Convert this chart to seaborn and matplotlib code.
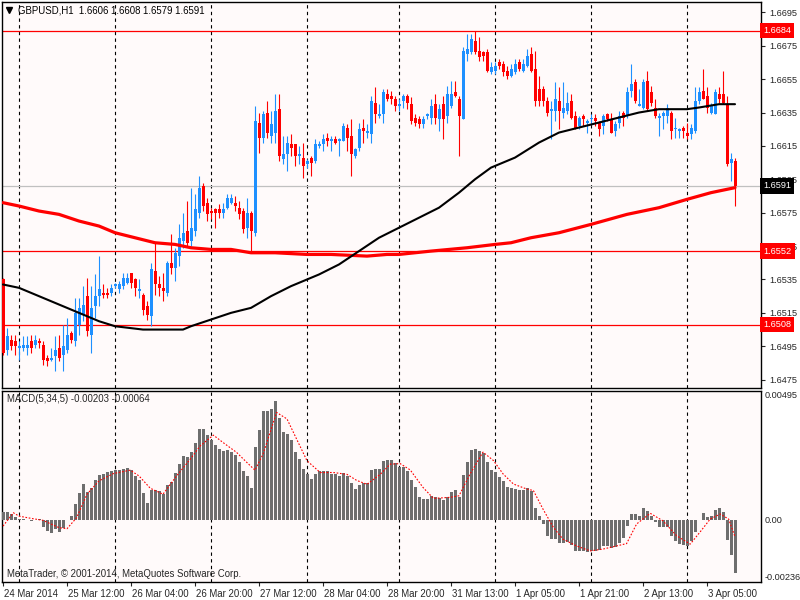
import numpy as np
import matplotlib
matplotlib.use("Agg")
import matplotlib.pyplot as plt
import seaborn as sns
from matplotlib.transforms import ScaledTranslation

# GBPUSD H1 candles, 24 Mar 20:00 .. 3 Apr 12:00 (one entry per bar)
opens = [1.6535,1.6493,1.6499,1.6498,1.6494,1.6494,1.6494,1.6498,1.6496,1.6498,
         1.6496,1.6488,1.6487,1.6489,1.6494,1.6490,1.6493,1.6503,1.6498,1.6508,
         1.6514,1.6525,1.6502,1.6519,1.6525,1.6527,1.6527,1.6527,1.6531,1.6529,
         1.6531,1.6533,1.6539,1.6535,1.6528,1.6526,1.6519,1.6513,1.6540,1.6532,
         1.6530,1.6527,1.6545,1.6542,1.6549,1.6558,1.6564,1.6558,1.6564,1.6575,
         1.6591,1.6581,1.6576,1.6577,1.6577,1.6575,1.6578,1.6581,1.6581,1.6578,
         1.6576,1.6566,1.6575,1.6563,1.6629,1.6620,1.6635,1.6621,1.6623,1.6637,
         1.6607,1.6610,1.6616,1.6616,1.6609,1.6608,1.6604,1.6608,1.6606,1.6615,
         1.6616,1.6620,1.6618,1.6619,1.6618,1.6618,1.6626,1.6621,1.6609,1.6614,
         1.6626,1.6623,1.6622,1.6641,1.6633,1.6634,1.6646,1.6645,1.6643,1.6639,
         1.6642,1.6645,1.6640,1.6632,1.6631,1.6628,1.6633,1.6632,1.6640,1.6631,
         1.6640,1.6633,1.6639,1.6647,1.6643,1.6631,1.6670,1.6671,1.6678,1.6672,
         1.6671,1.6671,1.6659,1.6660,1.6665,1.6664,1.6660,1.6657,1.6659,1.6665,
         1.6660,1.6663,1.6670,1.6661,1.6649,1.6649,1.6642,1.6636,1.6636,1.6642,
         1.6635,1.6636,1.6642,1.6633,1.6627,1.6633,1.6629,1.6631,1.6632,1.6629,
         1.6627,1.6634,1.6631,1.6624,1.6629,1.6635,1.6633,1.6648,1.6653,1.6639,
         1.6638,1.6654,1.6647,1.6638,1.6632,1.6633,1.6633,1.6635,1.6625,1.6624,
         1.6626,1.6623,1.6622,1.6624,1.6642,1.6648,1.6645,1.6635,1.6634,1.6646,
         1.6646,1.6640,1.6605,1.6606]
highs = [1.6536,1.6506,1.6502,1.6502,1.6498,1.6501,1.6501,1.6502,1.6502,1.6500,
         1.6498,1.6490,1.6494,1.6501,1.6502,1.6508,1.6512,1.6504,1.6524,1.6524,
         1.6531,1.6536,1.6531,1.6538,1.6549,1.6532,1.6530,1.6532,1.6533,1.6534,
         1.6539,1.6539,1.6539,1.6536,1.6535,1.6527,1.6522,1.6545,1.6557,1.6537,
         1.6539,1.6546,1.6562,1.6554,1.6568,1.6575,1.6582,1.6590,1.6586,1.6597,
         1.6593,1.6584,1.6578,1.6578,1.6580,1.6581,1.6586,1.6586,1.6585,1.6582,
         1.6578,1.6584,1.6576,1.6639,1.6635,1.6636,1.6642,1.6636,1.6646,1.6646,
         1.6621,1.6621,1.6622,1.6616,1.6615,1.6617,1.6607,1.6609,1.6619,1.6618,
         1.6622,1.6623,1.6621,1.6621,1.6620,1.6629,1.6628,1.6631,1.6614,1.6629,
         1.6631,1.6628,1.6645,1.6650,1.6640,1.6649,1.6649,1.6648,1.6645,1.6643,
         1.6646,1.6646,1.6644,1.6634,1.6633,1.6633,1.6635,1.6643,1.6646,1.6640,
         1.6645,1.6651,1.6654,1.6654,1.6645,1.6674,1.6682,1.6682,1.6684,1.6680,
         1.6672,1.6673,1.6665,1.6665,1.6667,1.6666,1.6663,1.6664,1.6667,1.6667,
         1.6667,1.6673,1.6674,1.6672,1.6657,1.6651,1.6644,1.6642,1.6653,1.6650,
         1.6653,1.6647,1.6646,1.6636,1.6633,1.6634,1.6631,1.6634,1.6634,1.6630,
         1.6634,1.6635,1.6635,1.6630,1.6636,1.6636,1.6650,1.6664,1.6655,1.6649,
         1.6655,1.6660,1.6651,1.6643,1.6635,1.6636,1.6640,1.6636,1.6632,1.6626,
         1.6627,1.6629,1.6628,1.6650,1.6650,1.6661,1.6650,1.6641,1.6649,1.6650,
         1.6660,1.6645,1.6611,1.6608]
lows = [1.6490,1.6490,1.6493,1.6490,1.6487,1.6492,1.6490,1.6491,1.6494,1.6494,
        1.6484,1.6483,1.6486,1.6480,1.6486,1.6480,1.6491,1.6497,1.6495,1.6502,
        1.6510,1.6501,1.6491,1.6512,1.6519,1.6524,1.6524,1.6525,1.6530,1.6527,
        1.6529,1.6532,1.6530,1.6525,1.6524,1.6514,1.6511,1.6507,1.6526,1.6525,
        1.6522,1.6525,1.6538,1.6534,1.6543,1.6554,1.6555,1.6555,1.6561,1.6572,
        1.6576,1.6570,1.6571,1.6566,1.6572,1.6572,1.6577,1.6580,1.6576,1.6571,
        1.6563,1.6560,1.6552,1.6561,1.6611,1.6617,1.6620,1.6617,1.6617,1.6606,
        1.6604,1.6600,1.6609,1.6603,1.6604,1.6596,1.6602,1.6597,1.6605,1.6614,
        1.6612,1.6615,1.6612,1.6616,1.6609,1.6618,1.6612,1.6597,1.6608,1.6612,
        1.6617,1.6620,1.6617,1.6629,1.6632,1.6629,1.6642,1.6640,1.6636,1.6636,
        1.6638,1.6637,1.6628,1.6627,1.6626,1.6626,1.6631,1.6628,1.6628,1.6624,
        1.6619,1.6629,1.6638,1.6644,1.6609,1.6631,1.6666,1.6670,1.6670,1.6666,
        1.6666,1.6659,1.6658,1.6658,1.6661,1.6657,1.6655,1.6656,1.6658,1.6660,
        1.6659,1.6662,1.6659,1.6639,1.6639,1.6639,1.6633,1.6619,1.6630,1.6625,
        1.6632,1.6634,1.6631,1.6625,1.6625,1.6627,1.6623,1.6628,1.6627,1.6621,
        1.6622,1.6630,1.6623,1.6621,1.6626,1.6627,1.6632,1.6644,1.6641,1.6639,
        1.6637,1.6636,1.6639,1.6632,1.6621,1.6625,1.6629,1.6619,1.6620,1.6620,
        1.6620,1.6619,1.6619,1.6623,1.6640,1.6643,1.6635,1.6634,1.6634,1.6641,
        1.6640,1.6603,1.6594,1.6579]
closes = [1.6491,1.6501,1.6495,1.6495,1.6495,1.6496,1.6496,1.6494,1.6499,1.6497,
          1.6487,1.6486,1.6488,1.6493,1.6488,1.6495,1.6502,1.6499,1.6515,1.6518,
          1.6520,1.6504,1.6518,1.6525,1.6529,1.6526,1.6526,1.6530,1.6532,1.6532,
          1.6536,1.6536,1.6533,1.6530,1.6529,1.6517,1.6514,1.6541,1.6532,1.6530,
          1.6528,1.6545,1.6542,1.6551,1.6560,1.6563,1.6557,1.6566,1.6577,1.6590,
          1.6579,1.6574,1.6575,1.6575,1.6575,1.6577,1.6584,1.6584,1.6579,1.6574,
          1.6565,1.6575,1.6564,1.6630,1.6620,1.6634,1.6623,1.6628,1.6636,1.6609,
          1.6610,1.6617,1.6614,1.6609,1.6610,1.6603,1.6606,1.6605,1.6616,1.6616,
          1.6619,1.6618,1.6619,1.6617,1.6619,1.6627,1.6620,1.6610,1.6613,1.6625,
          1.6624,1.6624,1.6642,1.6634,1.6634,1.6647,1.6643,1.6643,1.6639,1.6640,
          1.6645,1.6641,1.6630,1.6629,1.6628,1.6631,1.6634,1.6639,1.6632,1.6637,
          1.6631,1.6646,1.6646,1.6645,1.6633,1.6672,1.6673,1.6679,1.6671,1.6668,
          1.6669,1.6660,1.6662,1.6663,1.6663,1.6659,1.6657,1.6661,1.6664,1.6661,
          1.6664,1.6669,1.6660,1.6642,1.6642,1.6642,1.6635,1.6637,1.6643,1.6636,
          1.6638,1.6641,1.6632,1.6625,1.6632,1.6631,1.6630,1.6632,1.6630,1.6625,
          1.6633,1.6631,1.6623,1.6628,1.6633,1.6632,1.6647,1.6652,1.6642,1.6640,
          1.6653,1.6637,1.6641,1.6633,1.6633,1.6635,1.6638,1.6624,1.6626,1.6625,
          1.6624,1.6621,1.6626,1.6642,1.6647,1.6643,1.6638,1.6639,1.6647,1.6643,
          1.6641,1.6604,1.6607,1.6591]

# moving averages read at a few bars
fast_ma_bars = [0,4,9,14,19,24,28,35,45,47,52,57,62,67,72,79,84,89,94,99,104,109,114,118,
                122,128,134,139,144,149,154,159,164,171,174,179,183]
fast_ma_vals = [1.6532,1.6530,1.6525,1.6520,1.6515,1.6510,1.6507,1.6505,1.6505,1.6507,1.6511,
                1.6515,1.6518,1.6525,1.6531,1.6538,1.6544,1.6552,1.6560,1.6566,1.6572,1.6578,
                1.6587,1.6595,1.6602,1.6608,1.6617,1.6623,1.6626,1.6629,1.6632,1.6635,1.6637,
                1.6637,1.6638,1.6640,1.6640]
slow_ma_bars = [0,4,9,14,19,24,28,33,38,43,47,52,57,62,68,76,82,91,96,99,107,116,123,127,
                132,139,147,156,164,171,177,183]
slow_ma_vals = [1.6581,1.6579,1.6576,1.6574,1.6570,1.6567,1.6563,1.6560,1.6557,1.6556,1.6554,
                1.6553,1.6553,1.6551,1.6551,1.6550,1.6550,1.6549,1.6550,1.6550,1.6552,1.6554,
                1.6556,1.6557,1.6560,1.6563,1.6568,1.6574,1.6578,1.6583,1.6587,1.6590]

# MACD(5,34,5) histogram, one per bar
macd = [0.00032,0.00032,0.00024,0.00013,0.00005,0.00003,-0.00001,-0.00004,0.00000,0.00004,
        -0.00026,-0.00040,-0.00049,-0.00033,-0.00045,-0.00029,-0.00001,0.00015,0.00061,0.00104,
        0.00138,0.00108,0.00123,0.00152,0.00173,0.00178,0.00183,0.00187,0.00192,0.00191,
        0.00195,0.00198,0.00191,0.00169,0.00152,0.00105,0.00067,0.00114,0.00116,0.00111,
        0.00099,0.00134,0.00147,0.00179,0.00215,0.00246,0.00242,0.00261,0.00296,0.00348,
        0.00348,0.00326,0.00306,0.00288,0.00271,0.00265,0.00269,0.00261,0.00250,0.00224,
        0.00186,0.00169,0.00124,0.00280,0.00346,0.00419,0.00419,0.00425,0.00457,0.00389,
        0.00338,0.00329,0.00306,0.00262,0.00233,0.00195,0.00175,0.00159,0.00178,0.00188,
        0.00188,0.00188,0.00178,0.00175,0.00169,0.00182,0.00169,0.00140,0.00118,0.00134,
        0.00141,0.00141,0.00192,0.00195,0.00195,0.00227,0.00230,0.00230,0.00220,0.00205,
        0.00205,0.00189,0.00154,0.00125,0.00090,0.00079,0.00079,0.00091,0.00087,0.00083,
        0.00078,0.00087,0.00109,0.00115,0.00087,0.00173,0.00224,0.00270,0.00273,0.00264,
        0.00257,0.00221,0.00192,0.00183,0.00166,0.00148,0.00125,0.00123,0.00119,0.00115,
        0.00115,0.00123,0.00113,0.00045,0.00017,-0.00015,-0.00060,-0.00073,-0.00073,-0.00086,
        -0.00086,-0.00083,-0.00096,-0.00120,-0.00120,-0.00120,-0.00124,-0.00120,-0.00120,-0.00115,
        -0.00101,-0.00099,-0.00105,-0.00102,-0.00088,-0.00067,-0.00022,0.00023,0.00023,0.00017,
        0.00046,0.00036,0.00017,-0.00009,-0.00028,-0.00028,-0.00028,-0.00060,-0.00079,-0.00090,
        -0.00096,-0.00101,-0.00079,-0.00044,0.00000,0.00027,0.00010,0.00017,0.00038,0.00045,
        0.00032,-0.00077,-0.00134,-0.00203]
signal_bars = [0,2.6,4,7.6,10,14,16,18.4,21,24,27.6,31.8,34,36.8,40,43.4,46.8,49.3,52.6,55,
               58.4,61,63,65,68.4,71,73.4,76,79.3,82.6,86,88.4,91,94.3,96.8,99.3,101.8,105,
               107.6,111.8,114,116.8,120,122.6,125,127.6,130.9,132.6,135,137.6,140,143.4,
               146.8,150,153.4,155.9,158.4,161.8,165,168.4,171.8,174.2,176.8,179.3,181.4,183]
signal_vals = [-0.00023,0.00028,0.00015,0.00005,-0.00001,-0.00029,-0.00033,0.00009,0.00099,
               0.00150,0.00178,0.00191,0.00169,0.00122,0.00099,0.00169,0.00233,0.00284,0.00325,
               0.00297,0.00259,0.00220,0.00191,0.00252,0.00412,0.00387,0.00310,0.00227,0.00182,
               0.00182,0.00175,0.00152,0.00137,0.00175,0.00214,0.00216,0.00192,0.00125,0.00083,
               0.00087,0.00093,0.00177,0.00260,0.00228,0.00177,0.00138,0.00119,0.00113,0.00042,
               -0.00028,-0.00073,-0.00099,-0.00118,-0.00111,-0.00099,-0.00090,-0.00015,0.00026,
               -0.00003,-0.00060,-0.00092,-0.00047,0.00004,0.00023,0.00004,-0.00064]

# horizontal levels and labels
levels = [1.6684, 1.6552, 1.6508]
bid = 1.6591
price_ticks = [1.6475,1.6495,1.6515,1.6535,1.6555,1.6575,1.6595,1.6615,1.6635,1.6655,1.6675,1.6695]
day_starts = [4, 28, 52, 76, 99, 123, 147, 171]
date_ticks = [0,16,32,48,64,80,96,112,128,144,160,176]
date_labels = ["24 Mar 2014","25 Mar 12:00","26 Mar 04:00","26 Mar 20:00","27 Mar 12:00",
               "28 Mar 04:00","28 Mar 20:00","31 Mar 13:00","1 Apr 05:00","1 Apr 21:00",
               "2 Apr 13:00","3 Apr 05:00"]

sns.set_style("white")
plt.rcParams["font.family"] = ["Liberation Sans", "DejaVu Sans"]
FS = 6.6

BLUE = "#1E90FF"
RED = "#FF0000"
BG = "#FFFAFA"

fig = plt.figure(figsize=(8, 6), dpi=100)
ax = fig.add_axes([2/800, 1 - 388/600, 759/800, 386/600])
ax2 = fig.add_axes([2/800, 1 - 582/600, 759/800, 191/600])

o = np.array(opens); h = np.array(highs); l = np.array(lows); c = np.array(closes)
idx = np.arange(len(c))
colors = np.where(c >= o, BLUE, RED)

# candles
ax.vlines(idx, l, h, colors=colors, linewidth=0.8, zorder=3)
body_low = np.minimum(o, c)
body_h = np.maximum(np.abs(c - o), 0.00005)
ax.bar(idx, body_h, bottom=body_low, width=0.75, color=colors, linewidth=0, zorder=3)

# moving averages
sns.lineplot(x=slow_ma_bars, y=slow_ma_vals, color=RED, linewidth=2.3, ax=ax, zorder=4)
sns.lineplot(x=fast_ma_bars, y=fast_ma_vals, color="black", linewidth=1.5, ax=ax, zorder=4)

for lv in levels:
    ax.axhline(lv, color=RED, linewidth=0.9, zorder=2)
ax.axhline(bid, color="#C0C0C0", linewidth=0.9, zorder=2)

for a in (ax, ax2):
    a.set_facecolor(BG)
    for d in day_starts:
        a.axvline(d, color="black", linewidth=0.8, linestyle=(0, (3, 3)), zorder=1)
    a.set_xlim(-0.25, 189.5)
    for s in a.spines.values():
        s.set_color("black")
        s.set_linewidth(1)
        s.set_visible(True)

ax.set_ylim(1.6470, 1.67012)
ax.yaxis.tick_right()
ax.set_yticks(price_ticks)
ax.set_yticklabels([f"{p:.4f}" for p in price_ticks])
ax.tick_params(axis="y", direction="out", length=3, width=0.8, pad=3, labelsize=FS, right=True)
ax.set_xticks([])
ax.set_xlabel("")
ax.set_ylabel("")

# boxed price labels on the right scale
ytr = ax.get_yaxis_transform()
for lv, bg in [(1.6684, RED), (bid, "black"), (1.6552, RED), (1.6508, RED)]:
    ax.text(1.003, lv, f"{lv:.4f}", transform=ytr, ha="left", va="center", color="white",
            fontsize=FS, zorder=10, clip_on=False,
            bbox=dict(facecolor=bg, edgecolor="none", boxstyle="square,pad=0.35"))

ax.plot([0.0095], [0.979], marker="v", color="black", markersize=4, transform=ax.transAxes)
ax.text(0.021, 0.979, "GBPUSD,H1  1.6606 1.6608 1.6579 1.6591", transform=ax.transAxes,
        ha="left", va="center", fontsize=FS + 0.3, color="black")

# MACD panel
ax2.bar(idx, macd, width=0.75, color="#6E6E6E", linewidth=0, zorder=3)
sns.lineplot(x=signal_bars, y=signal_vals, color=RED, linewidth=0.8, linestyle=(0, (1.5, 1.5)),
             ax=ax2, zorder=4)
ax2.set_ylim(-0.00237, 0.00494)
ax2.set_yticks([])
ax2.set_ylabel("")
ytr2 = ax2.get_yaxis_transform()
ax2.text(1.005, 0.00494, "0.00495", transform=ytr2, ha="left", va="top", fontsize=FS, clip_on=False)
ax2.text(1.005, 0.0, "0.00", transform=ytr2, ha="left", va="center", fontsize=FS, clip_on=False)
ax2.text(1.005, -0.00237, "-0.00236", transform=ytr2, ha="left", va="bottom", fontsize=FS, clip_on=False)
ax2.text(0.0066, 0.958, "MACD(5,34,5) -0.00203 -0.00064", transform=ax2.transAxes,
         ha="left", va="center", fontsize=FS + 0.3)
ax2.text(0.0066, 0.04, "MetaTrader, \u00a9 2001-2014, MetaQuotes Software Corp.",
         transform=ax2.transAxes, ha="left", va="center", fontsize=FS + 0.3)

ax2.set_xticks(date_ticks)
ax2.set_xticklabels(date_labels, ha="left")
ax2.tick_params(axis="x", direction="out", length=3, width=0.8, pad=2, labelsize=FS + 0.3, bottom=True)
for lab in ax2.get_xticklabels():
    lab.set_transform(lab.get_transform() + ScaledTranslation(1/100, 0, fig.dpi_scale_trans))
ax2.set_xlabel("")

fig.savefig("out.png", dpi=100, facecolor="white")
